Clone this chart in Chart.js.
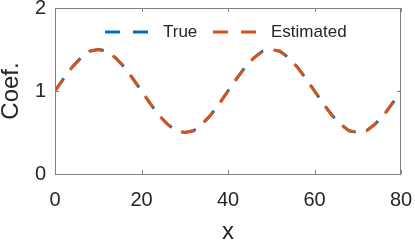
<!DOCTYPE html>
<html>
<head>
<meta charset="utf-8">
<script src="https://cdn.jsdelivr.net/npm/chart.js@4"></script>
<style>
  html, body { margin: 0; padding: 0; background: #fff; }
  #wrap { width: 415px; height: 241px; }
</style>
</head>
<body>
<div id="wrap"><canvas id="coefChart" width="415" height="241"></canvas></div>
<script>
// values
var xValues = [0, 2, 4, 6, 8, 10, 12, 14, 16, 18, 20, 22, 24, 26, 28, 30, 32, 34, 36, 38, 40,
               42, 44, 46, 48, 50, 52, 54, 56, 58, 60, 62, 64, 66, 68, 70, 72, 74, 76, 78, 80];
var trueCoef = [1.00, 1.15, 1.29, 1.40, 1.48, 1.50, 1.48, 1.40, 1.29, 1.15, 1.00,
                0.85, 0.71, 0.60, 0.52, 0.50, 0.52, 0.60, 0.71, 0.85, 1.00,
                1.15, 1.29, 1.40, 1.48, 1.50, 1.48, 1.40, 1.29, 1.15, 1.00,
                0.85, 0.71, 0.60, 0.52, 0.50, 0.52, 0.60, 0.71, 0.85, 1.00];
var estCoef = [1.00, 1.15, 1.29, 1.40, 1.48, 1.50, 1.48, 1.40, 1.29, 1.15, 1.00,
               0.85, 0.71, 0.60, 0.52, 0.50, 0.52, 0.60, 0.71, 0.85, 1.00,
               1.15, 1.29, 1.40, 1.48, 1.50, 1.48, 1.40, 1.29, 1.15, 1.00,
               0.85, 0.71, 0.60, 0.52, 0.50, 0.52, 0.60, 0.71, 0.85, 1.00];
var xTicks = [0, 20, 40, 60, 80];
var yTicks = [0, 1, 2];
var seriesNames = ["True", "Estimated"];
var seriesColors = ["#0072BD", "#D95319"];

var axisColor = "#262626";
var fontFamily = "'Liberation Sans', Arial, Helvetica, sans-serif";

function toPoints(ys) {
    return xValues.map(function (x, i) { return { x: x, y: ys[i] }; });
}

// box, inward ticks and legend, MATLAB style
var boxPlugin = {
    id: "boxPlugin",
    afterDatasetsDraw: function (chart) {
        var ctx = chart.ctx;
        var a = chart.chartArea;
        var xs = chart.scales.x, ys = chart.scales.y;
        ctx.save();
        ctx.strokeStyle = "#808080";
        ctx.lineWidth = 1;
        ctx.beginPath();
        xTicks.forEach(function (t) {
            var px = Math.round(xs.getPixelForValue(t)) + 0.5;
            ctx.moveTo(px, a.bottom); ctx.lineTo(px, a.bottom - 4);
            ctx.moveTo(px, a.top); ctx.lineTo(px, a.top + 4);
        });
        yTicks.forEach(function (t) {
            var py = Math.round(ys.getPixelForValue(t)) + 0.5;
            ctx.moveTo(a.left, py); ctx.lineTo(a.left + 4, py);
            ctx.moveTo(a.right, py); ctx.lineTo(a.right - 4, py);
        });
        ctx.stroke();
        ctx.strokeRect(Math.round(a.left) + 0.5, Math.round(a.top) + 0.5,
                       Math.round(a.right - a.left) - 1, Math.round(a.bottom - a.top));

        // legend
        var legX = [105, 213];
        var legY = 32;
        ctx.font = "17px " + fontFamily;
        ctx.textAlign = "left";
        ctx.textBaseline = "middle";
        ctx.fillStyle = axisColor;
        for (var i = 0; i < 2; i++) {
            ctx.strokeStyle = seriesColors[i];
            ctx.lineWidth = 3;
            ctx.setLineDash([15, 13]);
            ctx.beginPath();
            ctx.moveTo(legX[i], legY);
            ctx.lineTo(legX[i] + 44, legY);
            ctx.stroke();
            ctx.setLineDash([]);
            ctx.fillText(seriesNames[i], legX[i] + 58, legY);
        }
        ctx.restore();
    }
};

var ctx = document.getElementById("coefChart").getContext("2d");
var coefChart = new Chart(ctx, {
    type: "line",
    data: {
        datasets: [
            {
                label: seriesNames[0],
                data: toPoints(trueCoef),
                borderColor: seriesColors[0],
                borderWidth: 3,
                borderDash: [14, 12],
                borderDashOffset: -1.5,
                pointRadius: 0,
                tension: 0,
                fill: false,
                order: 2,
            },
            {
                label: seriesNames[1],
                data: toPoints(estCoef),
                borderColor: seriesColors[1],
                borderWidth: 3,
                borderDash: [14, 12],
                pointRadius: 0,
                tension: 0,
                fill: false,
                order: 1,
            },
        ],
    },
    options: {
        responsive: false,
        animation: false,
        events: [],
        layout: { padding: { top: 8, right: 14, left: 0, bottom: 0 } },
        plugins: { legend: { display: false }, tooltip: { enabled: false } },
        scales: {
            x: {
                type: "linear",
                min: 0, max: 80,
                afterBuildTicks: function (s) { s.ticks = xTicks.map(function (v) { return { value: v }; }); },
                afterFit: function (s) { s.height = 67; s.paddingLeft = 0; s.paddingRight = 0; },
                grid: { display: false, drawTicks: false },
                border: { display: false },
                ticks: { color: axisColor, font: { family: fontFamily, size: 20 }, padding: 14, maxRotation: 0 },
                title: { display: true, text: "x", color: axisColor, font: { family: fontFamily, size: 24 }, padding: { top: 0, bottom: -6 } },
            },
            y: {
                min: 0, max: 2,
                afterBuildTicks: function (s) { s.ticks = yTicks.map(function (v) { return { value: v }; }); },
                afterFit: function (s) { s.width = 55; s.paddingTop = 0; s.paddingBottom = 0; },
                grid: { display: false, drawTicks: false },
                border: { display: false },
                ticks: { color: axisColor, font: { family: fontFamily, size: 20 }, padding: 9 },
                title: { display: true, text: "Coef.", color: axisColor, font: { family: fontFamily, size: 24 }, padding: { top: -3, bottom: 0 } },
            },
        },
    },
    plugins: [boxPlugin],
});
</script>
</body>
</html>
